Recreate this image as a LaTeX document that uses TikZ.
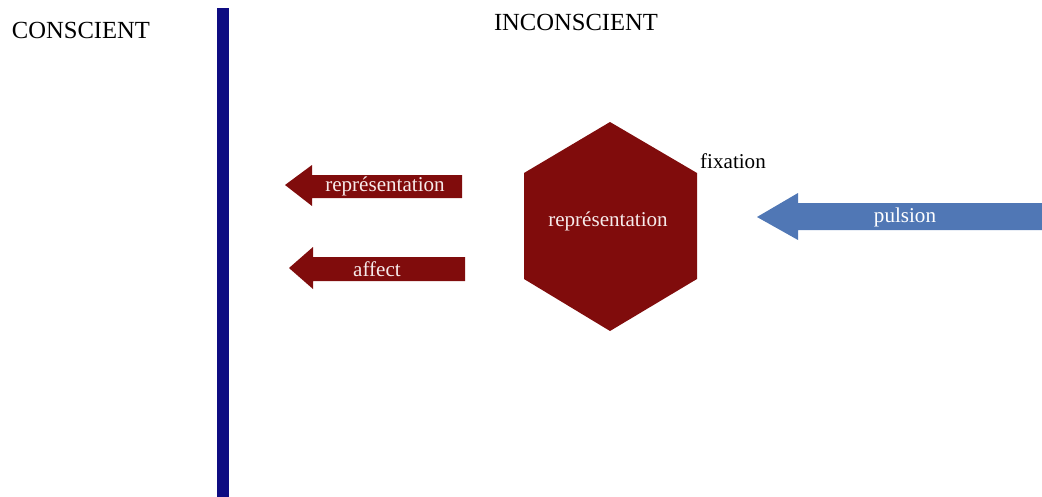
\documentclass[tikz,border=0pt]{standalone}
\usepackage{fontspec}
\setmainfont{Liberation Serif}
\usetikzlibrary{positioning,calc}
\definecolor{barblue}{RGB}{14,12,130}
\definecolor{darkred}{RGB}{128,12,12}
\definecolor{pulsblue}{RGB}{80,119,181}
\definecolor{paletext}{RGB}{246,234,234}
\tikzset{
  zone/.style={font=\fontsize{14}{16}\selectfont},
  lbl/.style={font=\fontsize{12}{14}\selectfont, text=paletext, inner sep=0pt}
}

\begin{document}
\begin{tikzpicture}[x=0.02cm, y=-0.02cm]
\useasboundingbox (0,0) rectangle (1042,497);
% the wall between both sides
\fill[barblue] (217,8) rectangle (229,497);
\node[zone] (consc) at (81,30) {CONSCIENT};
\node[zone] (inconsc) at (576,22) {INCONSCIENT};
% arrows going out
\fill[darkred] (285,185) -- (312,165) -- (312,175) -- (462,175) -- (462,198) -- (312,198) -- (312,206) -- cycle;
\node[lbl] (rep) at (385,186) {représentation};
\fill[darkred] (289,268) -- (313,247) -- (313,257) -- (465,257) -- (465,281) -- (313,281) -- (313,289) -- cycle;
\node[lbl] (aff) at (377,269) {affect};
% hexagon
\fill[darkred] (610,122) -- (697,173) -- (697,279) -- (610,331) -- (524,279) -- (524,173) -- cycle;
\node[lbl] (hexrep) at (608,221) {représentation};
\node[font=\fontsize{12}{14}\selectfont, inner sep=0pt] (fix) at (733,161) {fixation};
% incoming drive
\fill[pulsblue] (757,217) -- (798,193) -- (798,203) -- (1042,203) -- (1042,230) -- (798,230) -- (798,240) -- cycle;
\node[lbl, text=white] (puls) at (905,217) {pulsion};
\end{tikzpicture}
\end{document}
